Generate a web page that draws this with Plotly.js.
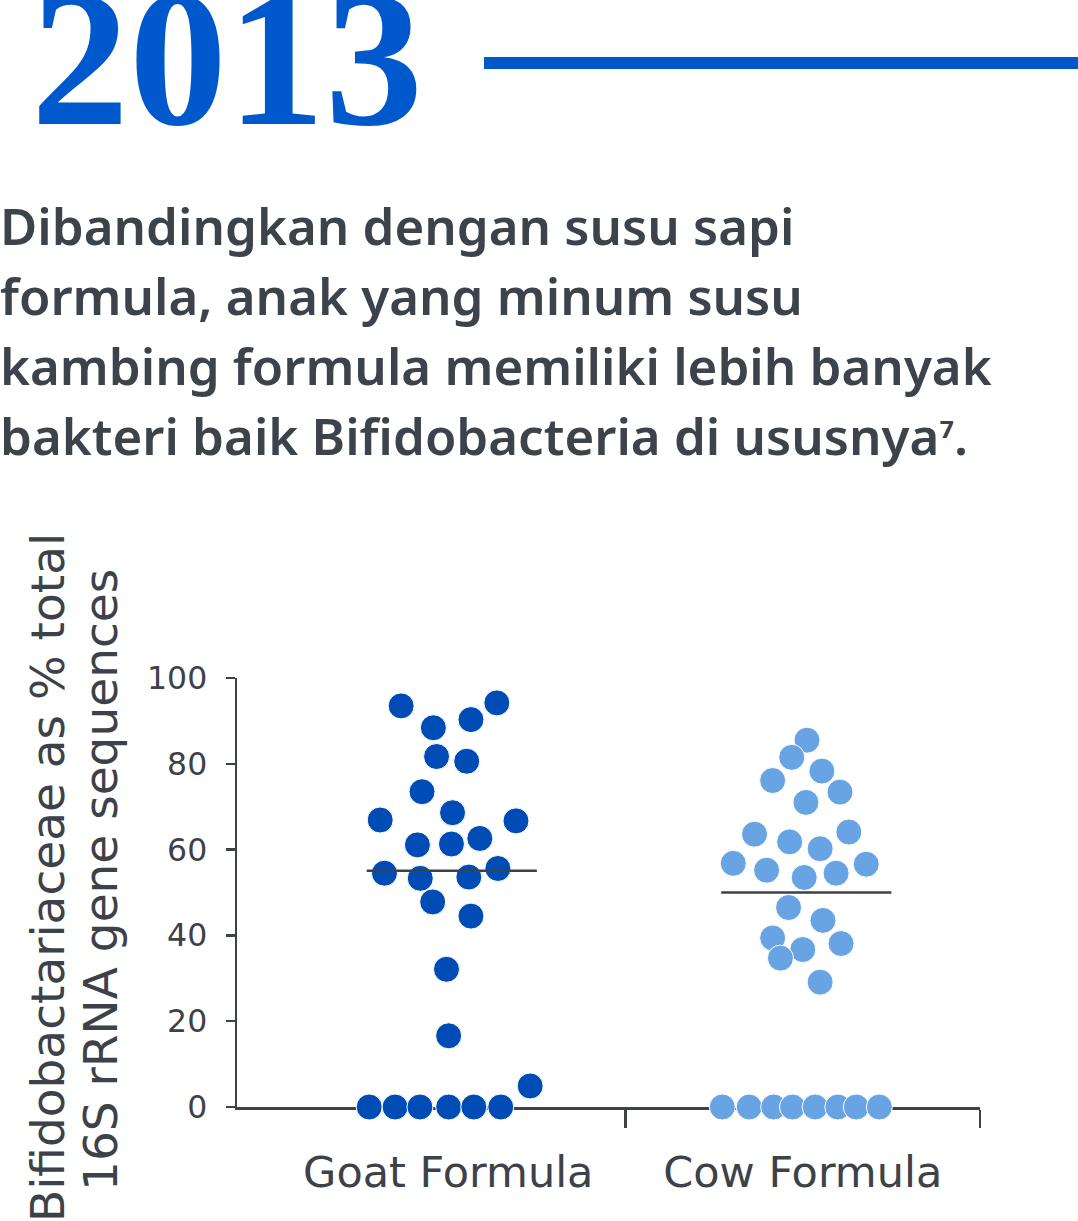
<!DOCTYPE html>
<html>
<head>
<meta charset="utf-8">
<script src="https://cdn.plot.ly/plotly-3.0.1.min.js"></script>
<style>
  html, body { margin: 0; padding: 0; background: #fff; }
  #dots { width: 1078px; height: 1221px; }
</style>
</head>
<body>
<div id="dots"></div>
<script>
// values (percent), spread = horizontal offset inside the group
var groups = ['Goat Formula', 'Cow Formula'];
var yTicks = [0, 20, 40, 60, 80, 100];

var goatValues = [93.5, 94.2, 88.4, 90.3, 81.7, 80.6, 73.5, 68.6, 66.9, 66.7, 61.1,
  61.3, 62.6, 54.5, 53.3, 53.6, 55.6, 47.8, 44.5, 32.1, 16.6, 4.9, 0, 0, 0, 0, 0, 0];
var goatSpread = [-0.133, 0.137, -0.042, 0.064, -0.033, 0.052, -0.074, 0.012, -0.192, 0.191, -0.087,
  0.009, 0.089, -0.180, -0.079, 0.058, 0.140, -0.044, 0.064, -0.005, 0.001, 0.231,
  -0.223, -0.150, -0.080, 0.001, 0.072, 0.148];

var cowValues = [85.5, 81.5, 78.3, 76.1, 73.4, 71.0, 63.6, 64.1, 61.8, 60.2, 56.8,
  56.6, 55.2, 54.5, 53.5, 46.5, 43.5, 39.4, 36.7, 34.7, 38.1, 29.1, 0, 0, 0, 0, 0, 0, 0, 0];
var cowSpread = [0.012, -0.031, 0.054, -0.085, 0.105, 0.009, -0.136, 0.130, -0.037, 0.049, -0.196,
  0.179, -0.102, 0.094, 0.004, -0.040, 0.057, -0.085, 0.000, -0.063, 0.108, 0.049,
  -0.227, -0.151, -0.082, -0.029, 0.035, 0.099, 0.151, 0.216];

var yTitle = ['Bifidobactariaceae as % total', '16S rRNA gene sequences'];
var paragraph = [
  'Dibandingkan dengan susu sapi',
  'formula, anak yang minum susu',
  'kambing formula memiliki lebih banyak',
  'bakteri baik Bifidobacteria di ususnya<span style="font-size:40px">⁷</span>.'
];

var ink = '#3d4148';
var blue = '#0059cc';

function median(values) {
  var s = values.slice().sort(function (a, b) { return a - b; });
  var mid = Math.floor(s.length / 2);
  return s.length % 2 ? s[mid] : (s[mid - 1] + s[mid]) / 2;
}

function dotTrace(values, spread, pos, color) {
  return {
    x: spread.map(function (d) { return pos + d; }),
    y: values,
    type: 'scatter',
    mode: 'markers',
    cliponaxis: false,
    hoverinfo: 'y',
    marker: { size: 26, color: color, line: { color: '#ffffff', width: 1 } }
  };
}

function medianTrace(values, pos) {
  var m = median(values);
  return {
    x: [pos - 0.23, pos + 0.25],
    y: [m, m],
    type: 'scatter',
    mode: 'lines',
    cliponaxis: false,
    hoverinfo: 'skip',
    line: { color: ink, width: 2.5 }
  };
}

// pixel -> paper helpers (plot area is 237..980 x 678..1107)
function px(x) { return (x - 237) / 743; }
function py(y) { return (1107 - y) / 429; }

var data = [
  dotTrace(goatValues, goatSpread, 0, '#004cb7'),
  dotTrace(cowValues, cowSpread, 1, '#68a4e4'),
  medianTrace(goatValues, 0),
  medianTrace(cowValues, 1)
];

var annotations = [{
  text: '2013',
  xref: 'paper', yref: 'paper',
  x: px(29), y: py(57),
  xanchor: 'left', yanchor: 'middle',
  showarrow: false,
  font: { family: 'Liberation Serif', size: 196, color: blue, weight: 'bold' }
}];

paragraph.forEach(function (line, i) {
  annotations.push({
    text: line,
    xref: 'paper', yref: 'paper',
    x: px(-2), y: py(188 + i * 70),
    xanchor: 'left', yanchor: 'top',
    align: 'left',
    showarrow: false,
    font: { family: 'Noto Sans', size: 51, color: '#3d434b', weight: 600 }
  });
});

yTitle.forEach(function (line, i) {
  annotations.push({
    text: line,
    xref: 'paper', yref: 'paper',
    x: px(47 + i * 53), y: py(878 + i * 2),
    xanchor: 'center', yanchor: 'middle',
    textangle: -90,
    showarrow: false,
    font: { family: 'DejaVu Sans', size: 47, color: ink }
  });
});

var layout = {
  width: 1078,
  height: 1221,
  margin: { l: 237, r: 98, t: 678, b: 114 },
  paper_bgcolor: '#ffffff',
  plot_bgcolor: '#ffffff',
  showlegend: false,
  xaxis: {
    range: [-0.596, 1.5],
    tickvals: [0, 1],
    ticktext: groups,
    ticks: '',
    ticklabelstandoff: 26,
    tickfont: { family: 'DejaVu Sans', size: 43, color: ink },
    showline: true,
    linecolor: ink,
    linewidth: 2.5,
    showgrid: false,
    zeroline: false,
    fixedrange: true,
    layer: 'below traces',
    minor: {
      tickmode: 'array',
      tickvals: [0.5, 1.5],
      ticks: 'outside',
      ticklen: 18,
      tickwidth: 2.5,
      tickcolor: ink,
      showgrid: false
    }
  },
  yaxis: {
    range: [0, 100],
    tickvals: yTicks,
    ticks: 'outside',
    ticklen: 9,
    tickwidth: 2.5,
    tickcolor: ink,
    ticklabelstandoff: 12,
    tickfont: { family: 'DejaVu Sans', size: 31.5, color: ink },
    showline: true,
    linecolor: ink,
    linewidth: 2.5,
    showgrid: false,
    zeroline: false,
    fixedrange: true,
    layer: 'below traces'
  },
  shapes: [{
    type: 'line',
    xref: 'paper', yref: 'paper',
    x0: px(484), x1: px(1078),
    y0: py(63), y1: py(63),
    line: { color: blue, width: 12 }
  }],
  annotations: annotations
};

Plotly.newPlot(document.getElementById('dots'), data, layout, { displayModeBar: false, staticPlot: true });
</script>
</body>
</html>
